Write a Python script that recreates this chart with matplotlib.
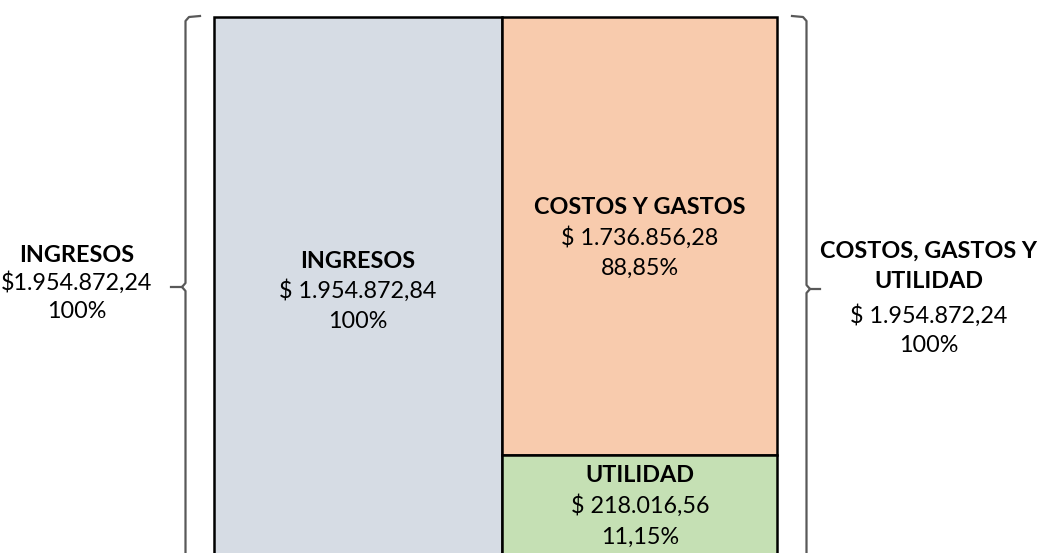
import matplotlib.pyplot as plt
from matplotlib.patches import Rectangle

# datos del estado de resultados
nombres = ['INGRESOS', 'COSTOS Y GASTOS', 'UTILIDAD']
montos = ['$ 1.954.872,84', '$ 1.736.856,28', '$ 218.016,56']
porcentajes = ['100%', '88,85%', '11,15%']
colores = ['#D6DCE4', '#F8CBAD', '#C5E0B4']

# etiquetas de las llaves
izq_titulo = ['INGRESOS']
izq_valores = ['$1.954.872,24', '100%']
der_titulo = ['COSTOS, GASTOS Y', 'UTILIDAD']
der_valores = ['$ 1.954.872,24', '100%']

# disposición de las cajas en píxeles (x0, x1, y0, y1)
cajas = [(214, 502, 17, 560), (502, 777, 17, 455), (502, 777, 455, 560)]
# posición del texto en cada caja (x, y de cada línea)
pos_texto = [(358, [262, 291, 321]), (640, [208, 238, 268]), (640, [475, 506, 537])]

FUENTE = 'Lato'
TAM = 16.8
GRIS = '#595959'

fig = plt.figure(figsize=(10.38, 5.53), dpi=100)
ax = fig.add_axes([0, 0, 1, 1])
ax.set_xlim(0, 1038)
ax.set_ylim(553, 0)
ax.axis('off')

for i, (x0, x1, y0, y1) in enumerate(cajas):
    ax.add_patch(Rectangle((x0, y0), x1 - x0, y1 - y0, facecolor=colores[i],
                           edgecolor='black', linewidth=1.8))
    cx, ys = pos_texto[i]
    ax.text(cx, ys[0], nombres[i], ha='center', va='center', fontsize=TAM,
            fontweight='bold', family=FUENTE)
    ax.text(cx, ys[1], montos[i], ha='center', va='center', fontsize=TAM, family=FUENTE)
    ax.text(cx, ys[2], porcentajes[i], ha='center', va='center', fontsize=TAM, family=FUENTE)

# llave izquierda
ax.plot([200, 189, 185.5, 185.5, 182, 171], [16, 17, 21, 283, 287, 287],
        color=GRIS, lw=1.6, solid_joinstyle='round')
ax.plot([182, 185.5, 185.5], [287, 291, 560], color=GRIS, lw=1.6)

# llave derecha
ax.plot([792, 803, 806.5, 806.5, 810, 820], [16, 17, 21, 285, 289, 289],
        color=GRIS, lw=1.6, solid_joinstyle='round')
ax.plot([810, 806.5, 806.5], [289, 293, 560], color=GRIS, lw=1.6)

# textos de las llaves
ax.text(77, 255, izq_titulo[0], ha='center', va='center', fontsize=TAM,
        fontweight='bold', family=FUENTE)
for k, t in enumerate(izq_valores):
    ax.text(77, 283 + 28 * k, t, ha='center', va='center', fontsize=TAM, family=FUENTE)

for k, t in enumerate(der_titulo):
    ax.text(929, 251 + 31 * k, t, ha='center', va='center', fontsize=TAM,
            fontweight='bold', family=FUENTE)
for k, t in enumerate(der_valores):
    ax.text(929, 316 + 30 * k, t, ha='center', va='center', fontsize=TAM, family=FUENTE)

fig.savefig('out.png', dpi=100)
